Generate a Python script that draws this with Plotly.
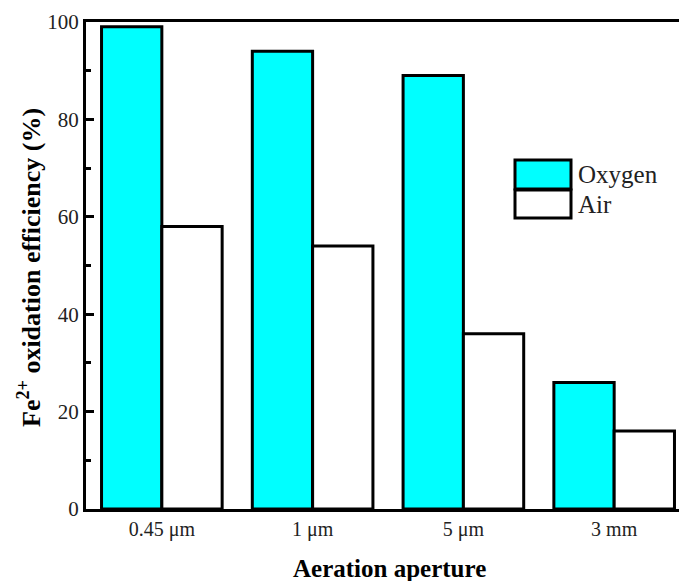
import plotly.graph_objects as go

categories = ["0.45 μm", "1 μm", "5 μm", "3 mm"]
oxygen = [99, 94, 89, 26]
air = [58, 54, 36, 16]
series_names = ["Oxygen", "Air"]
y_ticks = [0, 20, 40, 60, 80, 100]

FONT = "Liberation Serif"

fig = go.Figure()
fig.add_trace(go.Bar(x=categories, y=oxygen, name=series_names[0],
                     marker=dict(color="#00FFFF", line=dict(color="black", width=3)),
                     showlegend=False))
fig.add_trace(go.Bar(x=categories, y=air, name=series_names[1],
                     marker=dict(color="white", line=dict(color="black", width=3)),
                     showlegend=False))

L, R, T, B = 86, 2, 22, 72
W, H = 681, 581
pw, ph = W - L - R, H - T - B

def px(x):
    return (x - L) / pw

def py(y):
    return (H - B - y) / ph

fig.update_layout(
    width=W, height=H,
    margin=dict(l=L, r=R, t=T, b=B),
    paper_bgcolor="white", plot_bgcolor="white",
    barmode="group", bargap=0.2, bargroupgap=0,
    font=dict(family=FONT, size=20, color="#222222"),
    xaxis=dict(type="category", range=[-0.503, 3.43],
               showline=True, linecolor="black", linewidth=3, mirror=True,
               ticks="", showgrid=False, zeroline=False,
               tickfont=dict(family=FONT, size=20, color="#222222")),
    yaxis=dict(range=[0, 100], tickvals=y_ticks,
               showline=True, linecolor="black", linewidth=3, mirror=False,
               ticks="inside", ticklen=8, tickwidth=3, tickcolor="black",
               minor=dict(ticks="inside", ticklen=5, tickwidth=3, tickcolor="black", dtick=10),
               showgrid=False, zeroline=False,
               tickfont=dict(family=FONT, size=21, color="#222222")),
)

# Axis titles
fig.add_annotation(text="<b>Aeration aperture</b>", xref="paper", yref="paper",
                   x=px(389), y=py(568), xanchor="center", yanchor="middle",
                   showarrow=False, font=dict(family=FONT, size=25, color="black"))
fig.add_annotation(text="<b>Fe<sup>2+</sup> oxidation efficiency (%)</b>", xref="paper", yref="paper",
                   x=px(29), y=py(268), xanchor="center", yanchor="middle",
                   showarrow=False, textangle=-90,
                   font=dict(family=FONT, size=26, color="black"))

# Legend drawn manually
legend_items = [(series_names[0], "#00FFFF", 160, 189), (series_names[1], "white", 190, 218)]
for name, col, y0, y1 in legend_items:
    fig.add_shape(type="rect", xref="paper", yref="paper",
                  x0=px(515), x1=px(571), y0=py(y1), y1=py(y0),
                  fillcolor=col, line=dict(color="black", width=3))
    fig.add_annotation(text=name, xref="paper", yref="paper",
                       x=px(576), y=py((y0 + y1) / 2), xanchor="left", yanchor="middle",
                       showarrow=False, font=dict(family=FONT, size=25, color="#222222"))

fig.write_html("out.html")
